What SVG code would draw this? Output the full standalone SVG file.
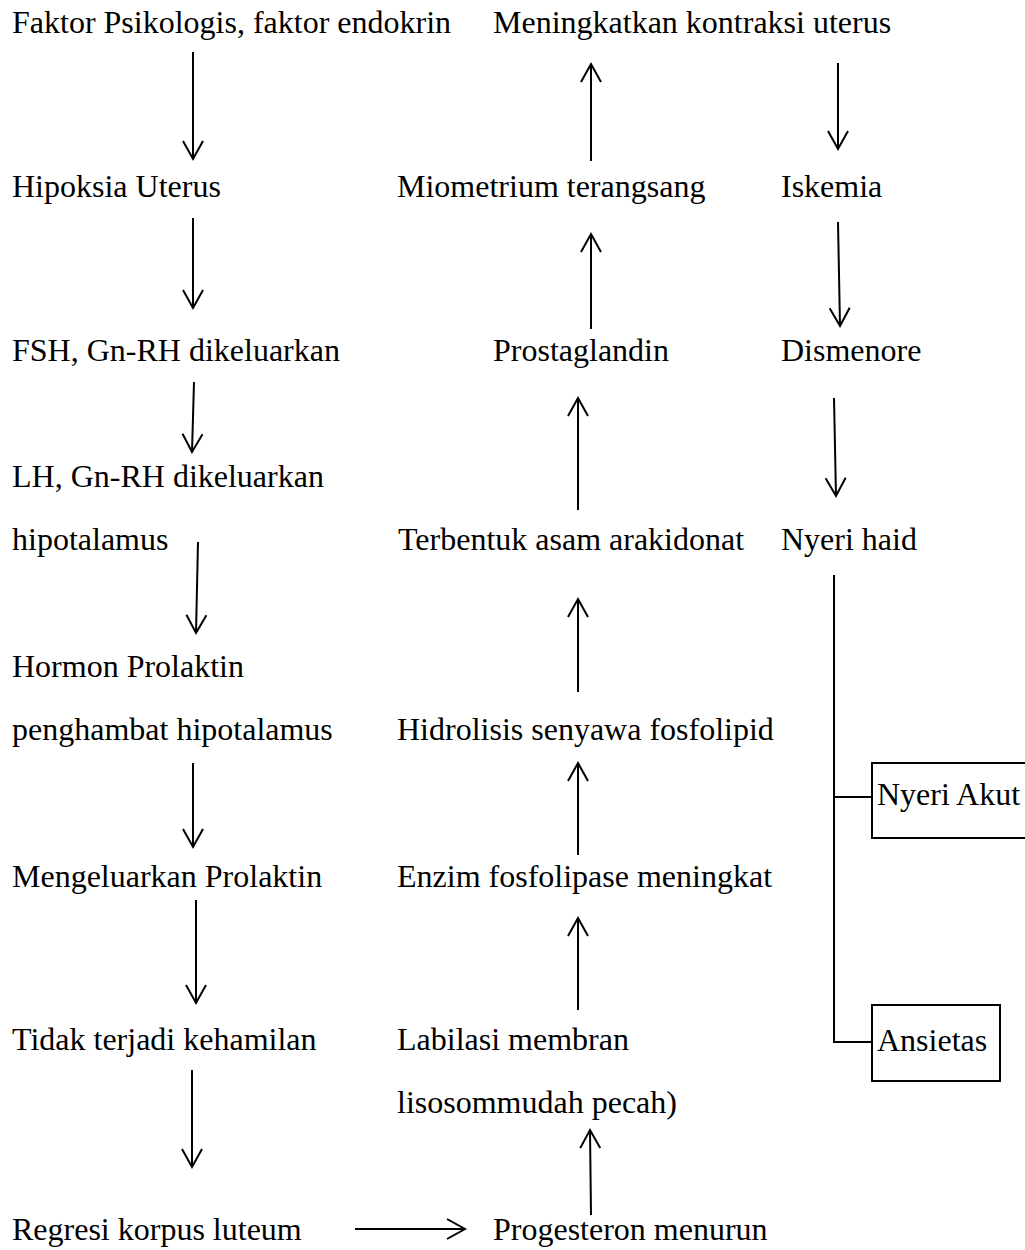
<svg xmlns="http://www.w3.org/2000/svg" width="1025" height="1250" viewBox="0 0 1025 1250">
<style>
.t text{font-family:'Liberation Serif',Tinos,'Times New Roman',Times,'Nimbus Roman','DejaVu Serif',serif;font-size:32px;fill:#000}
.ln{stroke:#000;stroke-width:2;fill:none}
.ar{stroke:#000;stroke-width:2;fill:none;marker-end:url(#ah)}
.box{stroke:#000;stroke-width:2;fill:#fff}
</style>
<defs>
<marker id="ah" markerUnits="userSpaceOnUse" viewBox="-21 -12 23 24" refX="0" refY="0" markerWidth="23" markerHeight="24" orient="auto" overflow="visible">
<path d="M-18,-10 L0,0 L-18,10" fill="none" stroke="#000" stroke-width="2"/>
</marker>
</defs>
<rect width="1025" height="1250" fill="#fff"/>
<g id="connectors">
<line class="ar" x1="193" y1="52" x2="193" y2="159"/>
<line class="ar" x1="193" y1="218" x2="193" y2="308"/>
<line class="ar" x1="194" y1="382" x2="192" y2="452"/>
<line class="ar" x1="198" y1="542" x2="196" y2="633"/>
<line class="ar" x1="193" y1="763" x2="193" y2="847"/>
<line class="ar" x1="196" y1="900" x2="196" y2="1003"/>
<line class="ar" x1="192" y1="1070" x2="192" y2="1167"/>
<line class="ar" x1="355" y1="1229" x2="465" y2="1229"/>
<line class="ar" x1="591" y1="161" x2="591" y2="64"/>
<line class="ar" x1="591" y1="329" x2="591" y2="234"/>
<line class="ar" x1="578" y1="510" x2="578" y2="398"/>
<line class="ar" x1="578" y1="692" x2="578" y2="599"/>
<line class="ar" x1="578" y1="855" x2="578" y2="763"/>
<line class="ar" x1="578" y1="1010" x2="578" y2="918"/>
<line class="ar" x1="591" y1="1215" x2="590" y2="1130"/>
<line class="ar" x1="838" y1="63" x2="838" y2="149"/>
<line class="ar" x1="838" y1="222" x2="840" y2="326"/>
<line class="ar" x1="834" y1="398" x2="836" y2="496"/>
<line class="ln" x1="834" y1="575" x2="834" y2="1043"/>
<line class="ln" x1="833" y1="797" x2="872" y2="797"/>
<line class="ln" x1="833" y1="1042" x2="872" y2="1042"/>
</g>
<g class="t">
<g id="n-faktor"><text x="12" y="33">Faktor Psikologis, faktor endokrin</text></g>
<g id="n-hipoksia"><text x="12" y="197">Hipoksia Uterus</text></g>
<g id="n-fsh"><text x="12" y="361">FSH, Gn-RH dikeluarkan</text></g>
<g id="n-lh"><text x="12" y="487">LH, Gn-RH dikeluarkan</text><text x="12" y="550">hipotalamus</text></g>
<g id="n-hormon"><text x="12" y="677">Hormon Prolaktin</text><text x="12" y="740">penghambat hipotalamus</text></g>
<g id="n-mengeluarkan"><text x="12" y="887">Mengeluarkan Prolaktin</text></g>
<g id="n-tidak"><text x="12" y="1050">Tidak terjadi kehamilan</text></g>
<g id="n-regresi"><text x="12" y="1240">Regresi korpus luteum</text></g>
<g id="n-meningkatkan"><text x="493" y="33">Meningkatkan kontraksi uterus</text></g>
<g id="n-miometrium"><text x="397" y="197">Miometrium terangsang</text></g>
<g id="n-prostaglandin"><text x="493" y="361">Prostaglandin</text></g>
<g id="n-terbentuk"><text x="398" y="550">Terbentuk asam arakidonat</text></g>
<g id="n-hidrolisis"><text x="397" y="740">Hidrolisis senyawa fosfolipid</text></g>
<g id="n-enzim"><text x="397" y="887">Enzim fosfolipase meningkat</text></g>
<g id="n-labilasi"><text x="397" y="1050">Labilasi membran</text><text x="397" y="1113">lisosommudah pecah)</text></g>
<g id="n-progesteron"><text x="493" y="1240">Progesteron menurun</text></g>
<g id="n-iskemia"><text x="781" y="197">Iskemia</text></g>
<g id="n-dismenore"><text x="781" y="361">Dismenore</text></g>
<g id="n-nyeri-haid"><text x="781" y="550">Nyeri haid</text></g>
<g id="n-nyeri-akut"><rect class="box" x="872" y="763" width="165" height="75"/><text x="877" y="805">Nyeri Akut</text></g>
<g id="n-ansietas"><rect class="box" x="872" y="1005" width="128" height="76"/><text x="877" y="1051">Ansietas</text></g>
</g>
</svg>
